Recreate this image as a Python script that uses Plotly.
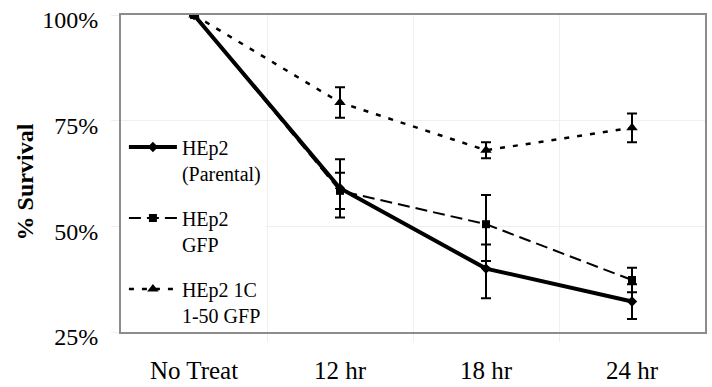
import plotly.graph_objects as go

categories = ["No Treat", "12 hr", "18 hr", "24 hr"]
x_pos = [0, 1, 2, 3]

parental = [100, 59.0, 40.0, 32.2]
parental_plus = [0, 6.9, 5.7, 4.1]
parental_minus = [0, 6.9, 7.0, 4.1]

gfp = [100, 58.4, 50.5, 37.3]
gfp_plus = [0, 4.3, 6.9, 2.9]
gfp_minus = [0, 4.3, 8.7, 2.9]

c1 = [100, 79.3, 68.0, 73.3]
c1_plus = [0, 3.6, 1.9, 3.4]
c1_minus = [0, 3.6, 1.9, 3.4]

y_ticks = [25, 50, 75, 100]
y_tick_labels = ["25%", "50%", "75%", "100%"]

FONT = "Liberation Serif, Times New Roman, serif"

def eb(plus, minus):
    return dict(type="data", symmetric=False, array=plus, arrayminus=minus,
                color="black", thickness=2, width=5)

fig = go.Figure()
fig.add_trace(go.Scatter(
    x=x_pos, y=c1, name="HEp2 1C<br>1-50 GFP", mode="lines+markers",
    line=dict(color="black", width=2.5, dash="5px,8px"),
    marker=dict(symbol="triangle-up", size=10, color="black"),
    error_y=eb(c1_plus, c1_minus), legendrank=3, legendgroup="c"))
fig.add_trace(go.Scatter(
    x=x_pos, y=parental, name="HEp2<br>(Parental)", mode="lines+markers",
    line=dict(color="black", width=4),
    marker=dict(symbol="diamond", size=8, color="black"),
    error_y=eb(parental_plus, parental_minus), legendrank=1, legendgroup="a"))
fig.add_trace(go.Scatter(
    x=x_pos, y=gfp, name="HEp2<br>GFP", mode="lines+markers",
    line=dict(color="black", width=2, dash="12px,6px"),
    marker=dict(symbol="square", size=8, color="black"),
    error_y=eb(gfp_plus, gfp_minus), legendrank=2, legendgroup="b"))

# white panel behind the legend (hides gridlines there)
fig.add_shape(type="rect", xref="x", yref="y", x0=-0.5, x1=0.49, y0=25, y1=74.6,
              fillcolor="white", line=dict(width=0), layer="between")

fig.add_annotation(text="<b>% Survival</b>", xref="paper", yref="paper",
                   x=-0.165, y=0.474, xanchor="center", yanchor="middle",
                   textangle=-90, showarrow=False,
                   font=dict(family=FONT, size=24, color="black"))

fig.update_layout(
    width=712, height=387,
    margin=dict(l=121, r=7, t=15, b=55, autoexpand=False),
    plot_bgcolor="white", paper_bgcolor="white",
    font=dict(family=FONT, color="black"),
    showlegend=True,
    legend=dict(x=0.005, y=0.645, xanchor="left", yanchor="top",
                bgcolor="rgba(0,0,0,0)", borderwidth=0,
                font=dict(family=FONT, size=20, color="black"),
                valign="top", tracegroupgap=16, itemwidth=48),
    xaxis=dict(range=[-0.5, 3.5], tickmode="array", tickvals=x_pos, ticktext=categories,
               showgrid=False, zeroline=False, ticks="", ticklabelstandoff=15,
               automargin=False, ticklabeloverflow="allow",
               tickfont=dict(family=FONT, size=25, color="black"),
               showline=True, mirror=True, linecolor="#8c8c8c", linewidth=2,
               minor=dict(tickvals=[0.5, 1.5, 2.5], showgrid=True, gridcolor="#efefef",
                          gridwidth=1, ticks="outside", ticklen=8, tickcolor="#efefef")),
    yaxis=dict(range=[25, 100], tickmode="array", tickvals=y_ticks, ticktext=y_tick_labels,
               showgrid=True, gridcolor="#efefef", gridwidth=1, zeroline=False,
               ticks="outside", ticklen=8, tickcolor="#efefef", automargin=False,
               ticklabelshift=5, ticklabelstandoff=8, ticklabeloverflow="allow",
               tickfont=dict(family=FONT, size=24, color="black"),
               showline=True, mirror=True, linecolor="#8c8c8c", linewidth=2),
)

fig.write_html("out.html")
